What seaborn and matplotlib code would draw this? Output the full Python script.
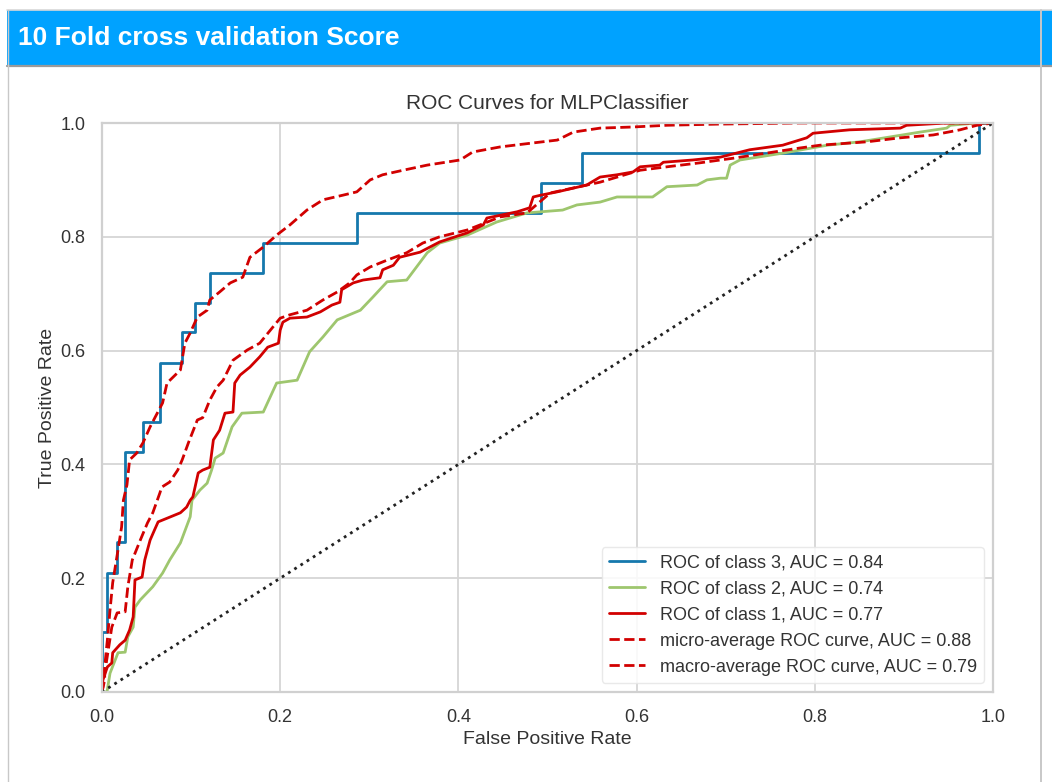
import numpy as np
import pandas as pd
import matplotlib
matplotlib.use("Agg")
import matplotlib.pyplot as plt
from matplotlib.patches import Rectangle
from matplotlib.lines import Line2D
import seaborn as sns

# ---------------- data ----------------
header_text = "10 Fold cross validation Score"
title = "ROC Curves for MLPClassifier"
xlabel = "False Positive Rate"
ylabel = "True Positive Rate"
ticks = [0.0, 0.2, 0.4, 0.6, 0.8, 1.0]

class3_label = "ROC of class 3, AUC = 0.84"
class3_fpr = [0.0, 0.0, 0.0056, 0.0168, 0.026, 0.046, 0.065, 0.090, 0.104, 0.121, 0.181, 0.286, 0.493, 0.539, 0.984, 1.0]
class3_tpr = [0.0, 0.105, 0.210, 0.263, 0.421, 0.474, 0.579, 0.632, 0.684, 0.737, 0.789, 0.842, 0.895, 0.947, 1.0, 1.0]

class2_label = "ROC of class 2, AUC = 0.74"
class2_fpr = [0.0, 0.0056, 0.009, 0.018, 0.026, 0.029, 0.035, 0.037, 0.043, 0.057, 0.068, 0.076, 0.088,
              0.099, 0.101, 0.110, 0.118, 0.123, 0.127, 0.136, 0.146, 0.157, 0.181, 0.196, 0.219, 0.233,
              0.248, 0.264, 0.290, 0.304, 0.320, 0.342, 0.365, 0.379, 0.410, 0.443, 0.477, 0.517, 0.533,
              0.559, 0.578, 0.618, 0.634, 0.668, 0.679, 0.694, 0.701, 0.705, 0.716, 0.764, 0.814, 0.851,
              0.918, 0.948, 0.952, 0.982, 1.0]
class2_tpr = [0.0, 0.0, 0.033, 0.069, 0.070, 0.097, 0.114, 0.149, 0.162, 0.185, 0.209, 0.232, 0.262,
              0.308, 0.337, 0.355, 0.367, 0.390, 0.411, 0.420, 0.466, 0.490, 0.492, 0.543, 0.548, 0.598,
              0.624, 0.654, 0.671, 0.694, 0.721, 0.724, 0.772, 0.789, 0.803, 0.826, 0.842, 0.847, 0.856,
              0.861, 0.870, 0.870, 0.888, 0.891, 0.900, 0.903, 0.903, 0.926, 0.935, 0.947, 0.961, 0.967,
              0.984, 0.991, 0.996, 1.0, 1.0]

class1_label = "ROC of class 1, AUC = 0.77"
class1_fpr = [0.0, 0.001, 0.006, 0.011, 0.012, 0.020, 0.026, 0.031, 0.035, 0.037, 0.045, 0.048, 0.054,
              0.059, 0.063, 0.074, 0.088, 0.095, 0.099, 0.102, 0.108, 0.113, 0.121, 0.125, 0.132, 0.138,
              0.147, 0.149, 0.155, 0.166, 0.177, 0.186, 0.198, 0.200, 0.203, 0.211, 0.230, 0.245, 0.258,
              0.267, 0.269, 0.282, 0.293, 0.312, 0.315, 0.327, 0.334, 0.357, 0.379, 0.410, 0.428, 0.432,
              0.466, 0.480, 0.484, 0.492, 0.511, 0.544, 0.559, 0.578, 0.596, 0.604, 0.626, 0.630, 0.663,
              0.694, 0.727, 0.764, 0.791, 0.798, 0.839, 0.896, 0.903, 0.948, 1.0]
class1_tpr = [0.0, 0.021, 0.044, 0.051, 0.069, 0.083, 0.091, 0.109, 0.132, 0.197, 0.202, 0.232, 0.267,
              0.285, 0.299, 0.306, 0.315, 0.325, 0.337, 0.343, 0.385, 0.390, 0.395, 0.443, 0.460, 0.490,
              0.492, 0.543, 0.557, 0.571, 0.589, 0.606, 0.613, 0.636, 0.650, 0.657, 0.659, 0.668, 0.680,
              0.685, 0.707, 0.719, 0.724, 0.728, 0.742, 0.750, 0.764, 0.773, 0.791, 0.807, 0.821, 0.833,
              0.844, 0.851, 0.870, 0.873, 0.879, 0.891, 0.905, 0.909, 0.914, 0.923, 0.926, 0.931, 0.935,
              0.940, 0.953, 0.961, 0.974, 0.982, 0.988, 0.991, 0.996, 1.0, 1.0]

micro_label = "micro-average ROC curve, AUC = 0.88"
micro_fpr = [0.0, 0.001, 0.003, 0.006, 0.007, 0.009, 0.012, 0.018, 0.022, 0.024, 0.028, 0.031, 0.039,
             0.046, 0.054, 0.068, 0.073, 0.088, 0.093, 0.099, 0.107, 0.118, 0.121, 0.132, 0.144, 0.158,
             0.166, 0.181, 0.196, 0.211, 0.230, 0.248, 0.270, 0.286, 0.301, 0.315, 0.338, 0.365, 0.402,
             0.416, 0.447, 0.484, 0.511, 0.529, 0.559, 0.596, 0.634, 0.690, 0.783, 1.0]
micro_tpr = [0.0, 0.009, 0.044, 0.091, 0.109, 0.144, 0.192, 0.250, 0.290, 0.337, 0.364, 0.408, 0.420,
             0.438, 0.466, 0.508, 0.543, 0.566, 0.613, 0.631, 0.659, 0.671, 0.689, 0.703, 0.719, 0.729,
             0.764, 0.782, 0.803, 0.821, 0.847, 0.865, 0.873, 0.879, 0.900, 0.909, 0.917, 0.926, 0.935,
             0.949, 0.958, 0.965, 0.970, 0.984, 0.991, 0.993, 0.996, 0.998, 1.0, 1.0]

macro_label = "macro-average ROC curve, AUC = 0.79"
macro_fpr = [0.0, 0.003, 0.003, 0.011, 0.017, 0.026, 0.029, 0.034, 0.043, 0.051, 0.057, 0.065, 0.067,
             0.076, 0.085, 0.090, 0.097, 0.107, 0.113, 0.121, 0.129, 0.136, 0.147, 0.163, 0.177, 0.189,
             0.200, 0.211, 0.230, 0.248, 0.264, 0.278, 0.286, 0.301, 0.320, 0.342, 0.360, 0.379, 0.410,
             0.447, 0.477, 0.503, 0.559, 0.604, 0.634, 0.671, 0.708, 0.783, 0.806, 0.859, 0.896, 0.933,
             0.963, 0.982, 1.0]
macro_tpr = [0.0, 0.021, 0.033, 0.114, 0.139, 0.141, 0.185, 0.232, 0.267, 0.297, 0.315, 0.350, 0.360,
             0.369, 0.390, 0.408, 0.438, 0.478, 0.482, 0.513, 0.536, 0.548, 0.583, 0.601, 0.613, 0.636,
             0.657, 0.663, 0.671, 0.689, 0.703, 0.719, 0.733, 0.747, 0.759, 0.772, 0.789, 0.800, 0.812,
             0.835, 0.842, 0.877, 0.896, 0.917, 0.923, 0.930, 0.938, 0.956, 0.961, 0.967, 0.974, 0.979,
             0.988, 0.996, 1.0]

diag = [0.0, 1.0]

# ---------------- style ----------------
sns.set_theme(style="whitegrid", rc={
    "axes.edgecolor": "#d0d0d0",
    "axes.linewidth": 1.6,
    "grid.color": "#d6d6d6",
    "grid.linewidth": 1.3,
    "xtick.color": "#333333",
    "ytick.color": "#333333",
    "axes.labelcolor": "#333333",
    "text.color": "#333333",
})
plt.rcParams["font.family"] = ["Liberation Sans", "DejaVu Sans"]

C_BLUE = "#1578ad"
C_GREEN = "#9ec66e"
C_RED = "#d10000"

fig = plt.figure(figsize=(10.52, 7.82), dpi=100)
W, H = 1052.0, 782.0

# page decoration: header bar and panel borders
fig.add_artist(Rectangle((7 / W, 1 - 65 / H), (W - 7) / W, 55 / H, transform=fig.transFigure,
                         facecolor="#00a2ff", edgecolor="none", zorder=0))
fig.add_artist(Line2D([7 / W, 1], [1 - 10 / H, 1 - 10 / H], transform=fig.transFigure,
                      color="#d8d8d8", lw=1.2))
fig.add_artist(Line2D([7 / W, 1], [1 - 65.5 / H, 1 - 65.5 / H], transform=fig.transFigure,
                      color="#9a9a9a", lw=1.6))
fig.add_artist(Line2D([7.5 / W, 7.5 / W], [0, 1 - 10 / H], transform=fig.transFigure,
                      color="#c8c8c8", lw=1.0))
fig.add_artist(Line2D([1041 / W, 1041 / W], [0, 1 - 10 / H], transform=fig.transFigure,
                      color="#c8c8c8", lw=1.4))
fig.text(18 / W, 1 - 38 / H, header_text, color="white", fontsize=19, fontweight="bold",
         va="center", ha="left")

ax = fig.add_axes([102 / W, 1 - 692 / H, (993 - 102) / W, (692 - 123) / H])

lw = 2.0
sns.lineplot(x=class3_fpr, y=class3_tpr, ax=ax, color=C_BLUE, lw=lw, sort=False,
             estimator=None, drawstyle="steps-post", label=class3_label)
sns.lineplot(x=class2_fpr, y=class2_tpr, ax=ax, color=C_GREEN, lw=lw, sort=False,
             estimator=None, label=class2_label)
sns.lineplot(x=class1_fpr, y=class1_tpr, ax=ax, color=C_RED, lw=lw, sort=False,
             estimator=None, label=class1_label)
sns.lineplot(x=micro_fpr, y=micro_tpr, ax=ax, color=C_RED, lw=lw, sort=False,
             estimator=None, linestyle="--", label=micro_label)
sns.lineplot(x=macro_fpr, y=macro_tpr, ax=ax, color=C_RED, lw=lw, sort=False,
             estimator=None, linestyle="--", label=macro_label)
ax.plot(diag, diag, linestyle=":", color="#222222", lw=2)

ax.set_xlim(0, 1)
ax.set_ylim(0, 1)
ax.set_xticks(ticks)
ax.set_yticks(ticks)
ax.set_xticklabels([f"{t:.1f}" for t in ticks])
ax.set_yticklabels([f"{t:.1f}" for t in ticks])
ax.tick_params(labelsize=13, pad=6)
ax.set_title(title, fontsize=15, pad=10)
ax.set_xlabel(xlabel, fontsize=14, labelpad=4)
ax.set_ylabel(ylabel, fontsize=14, labelpad=3)

leg = ax.legend(loc="lower right", fontsize=13, frameon=True, facecolor="white",
                edgecolor="#e6e6e6", framealpha=0.85, handlelength=2.0)
leg.get_frame().set_linewidth(1.0)

fig.savefig("out.png", dpi=100)
